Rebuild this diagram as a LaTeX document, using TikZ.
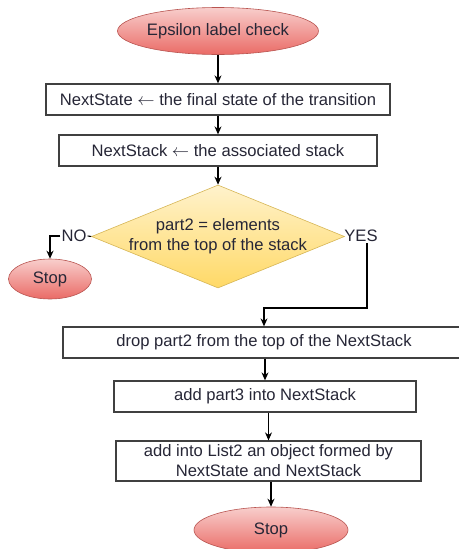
\documentclass[tikz,border=0pt]{standalone}
\usepackage{fontspec}
\setmainfont{Liberation Sans}
\usepackage{tikz}
\usetikzlibrary{arrows.meta,positioning,shapes.geometric}
\definecolor{StopTop}{HTML}{F8CECC}
\definecolor{StopBot}{HTML}{EA6B66}
\definecolor{StopLine}{HTML}{B85450}
\definecolor{DecTop}{HTML}{FFF2CC}
\definecolor{DecBot}{HTML}{FFD966}
\definecolor{DecLine}{HTML}{D6B656}
\definecolor{FlowText}{HTML}{262636}

\begin{document}
\begin{tikzpicture}[x=1pt,y=-1pt,>={Stealth[length=8pt,width=7pt]},
  font=\fontsize{16.6}{20}\selectfont,text=FlowText,
  term/.style={draw=StopLine,line width=0.6pt,ellipse,top color=StopTop,bottom color=StopBot,inner sep=0pt},
  proc/.style={draw=black!75,line width=1.3pt,rectangle,inner sep=0pt,align=center},
  flow/.style={->,black,line width=1.1pt}]
\useasboundingbox (0,0) rectangle (458,549);

\node[term,minimum width=154pt,minimum height=47pt] (start) at (218,31) {Epsilon label check};
\node[proc,minimum width=344pt,minimum height=31pt] (setstate) at (218,99.5) {NextState $\leftarrow$ the final state of the transition};
\node[proc,minimum width=318pt,minimum height=31pt] (setstack) at (218,150.5) {NextStack $\leftarrow$ the associated stack};
\node[diamond,draw=DecLine,line width=0.6pt,top color=DecTop,bottom color=DecBot,minimum width=253pt,minimum height=103pt,inner sep=0pt] (check) at (218,236.5) {};
\node[align=center] (checktxt) at (check) {part2 = elements\\from the top of the stack};
\node[inner sep=1pt] (nolab) at (74,236) {NO};
\node[inner sep=1pt] (yeslab) at (361,236) {YES};
\node[term,minimum width=83pt,minimum height=40pt] (stopno) at (50,279) {Stop};

\node[proc,minimum width=402pt,minimum height=31pt] (drop) at (264,342.5) {drop part2 from the top of the NextStack};
\node[proc,minimum width=302pt,minimum height=31pt] (addpart) at (265,396.5) {add part3 into NextStack};
\node[proc,minimum width=305pt,minimum height=40pt] (addlist) at (268.5,461) {add into List2 an object formed by\\NextState and NextStack};
\node[term,minimum width=154pt,minimum height=46pt] (stopyes) at (271,530) {Stop};

\draw[flow] (start) -- (setstate);
\draw[flow] (setstate) -- (setstack);
\draw[flow] (setstack) -- (check);
\draw[black,line width=1.1pt] (check.west) -- (nolab.east);
\draw[flow] (nolab.west) -| (stopno.north);
\coordinate (yesturn) at (367,308);
\draw[flow] (yeslab.south -| yesturn) -- (yesturn) -| (drop.north);
\draw[flow] (addpart.north |- drop.south) -- (addpart.north);
\draw[flow] (addlist.north |- addpart.south) -- (addlist.north);
\draw[flow] (stopyes.north |- addlist.south) -- (stopyes.north);
\end{tikzpicture}
\end{document}
